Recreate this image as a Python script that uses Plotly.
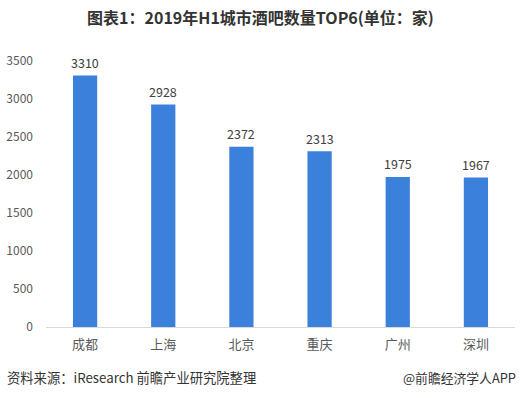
import plotly.graph_objects as go

cities = ["成都", "上海", "北京", "重庆", "广州", "深圳"]
counts = [3310, 2928, 2372, 2313, 1975, 1967]
y_ticks = [0, 500, 1000, 1500, 2000, 2500, 3000, 3500]

FONT = "Noto Sans CJK SC"

fig = go.Figure(go.Bar(
    x=cities, y=counts,
    marker=dict(color="#3b80db", line=dict(width=0)),
    width=0.31,
    hoverinfo="x+y",
))

value_labels = [
    dict(x=c, y=v, xref="x", yref="y", text=str(v), showarrow=False,
         yanchor="middle", yshift=13,
         font=dict(family=FONT, size=12.5, color="#404040"))
    for c, v in zip(cities, counts)
]

fig.update_layout(
    width=521, height=398,
    margin=dict(l=46, r=6, t=61, b=71),
    paper_bgcolor="white", plot_bgcolor="white",
    showlegend=False,
    font=dict(family=FONT, size=12, color="#595959"),
    title=dict(text="<b>图表1：2019年H1城市酒吧数量TOP6(单位：家)</b>",
               x=0.5, xanchor="center", y=0.955, yanchor="middle",
               font=dict(family=FONT, size=16, color="#333333")),
    xaxis=dict(showgrid=False, showline=True, linecolor="#d9d9d9", linewidth=1,
               ticks="", ticklabelstandoff=5,
               tickfont=dict(family=FONT, size=13, color="#595959")),
    yaxis=dict(range=[0, 3500], tickvals=y_ticks, showgrid=False, zeroline=False,
               showline=False, ticks="", ticklabelstandoff=12,
               tickfont=dict(family=FONT, size=12, color="#595959")),
    annotations=value_labels + [
        dict(text="资料来源：iResearch 前瞻产业研究院整理", xref="paper", yref="paper",
             x=-41/469, xanchor="left", y=-50/266, yanchor="middle", showarrow=False,
             font=dict(family=FONT, size=13.3, color="#333333")),
        dict(text="@前瞻经济学人APP", xref="paper", yref="paper",
             x=1 + 3/469, xanchor="right", y=-50/266, yanchor="middle", showarrow=False,
             font=dict(family=FONT, size=12.8, color="#333333")),
    ],
)

fig.write_html("out.html", config={"displayModeBar": False},
               post_script="document.body.style.margin='0';")
